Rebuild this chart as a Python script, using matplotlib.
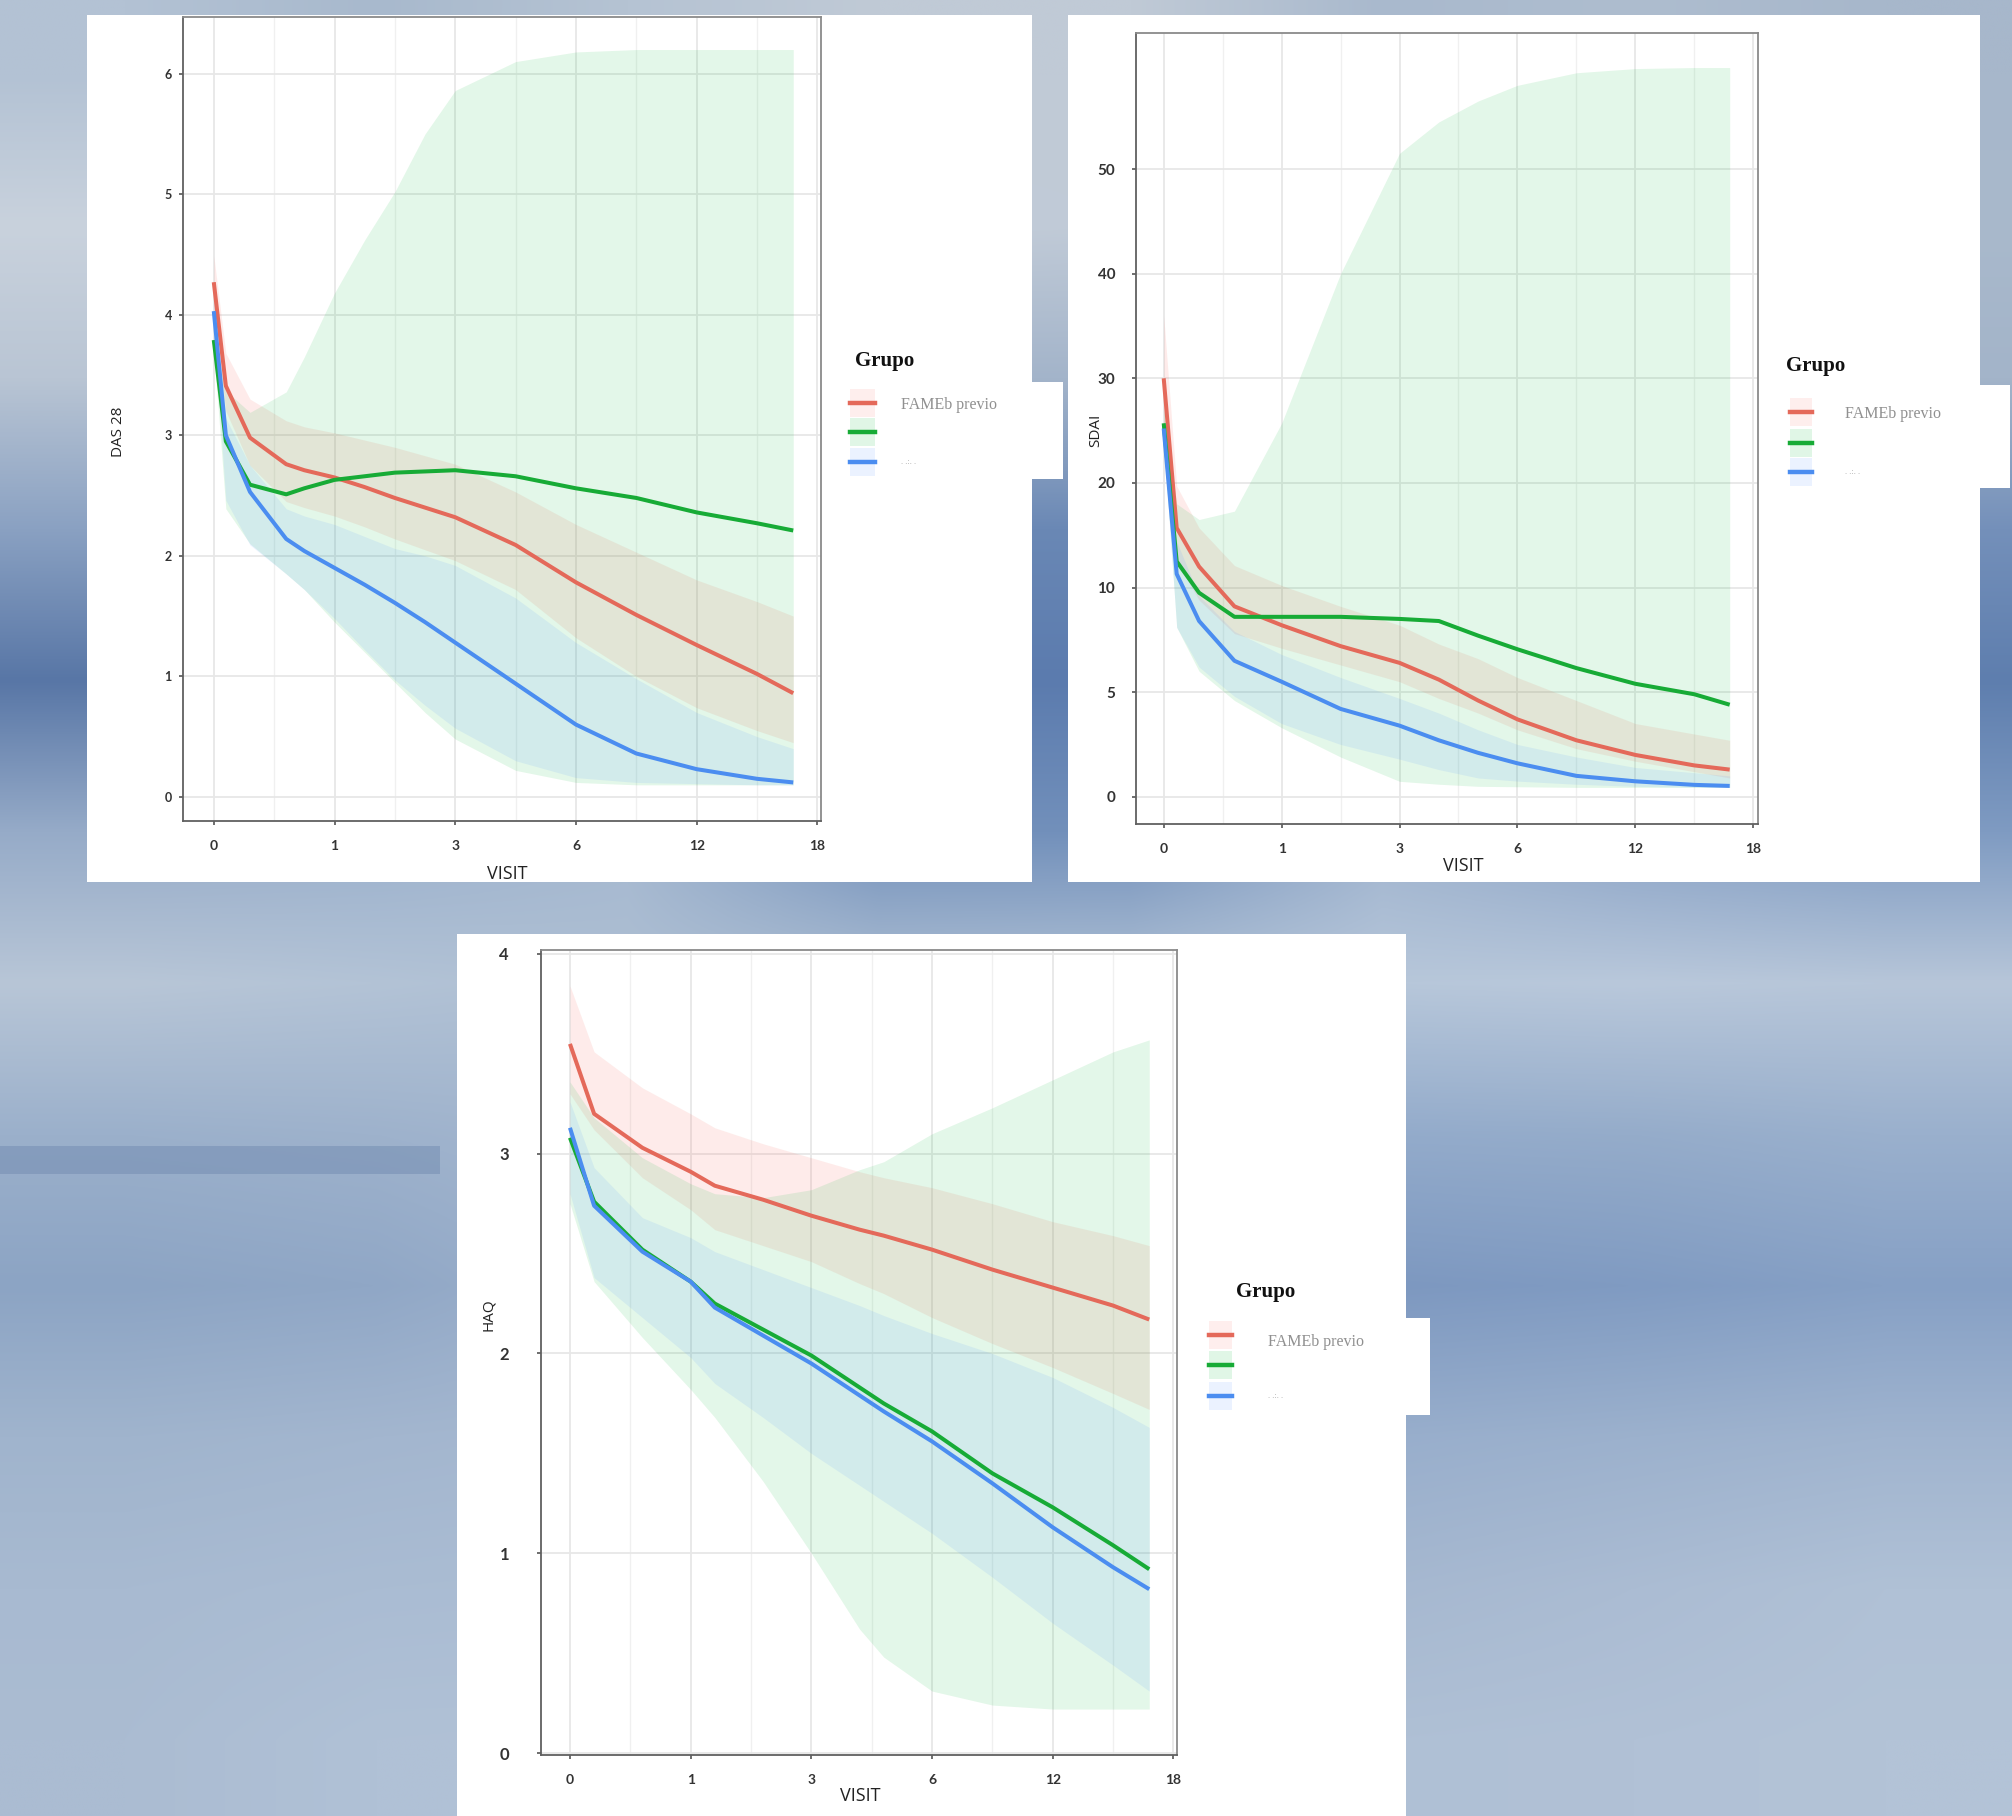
import numpy as np
import matplotlib
matplotlib.use("Agg")
import matplotlib.pyplot as plt
from matplotlib.patches import Rectangle
from matplotlib.lines import Line2D
from matplotlib.colors import to_rgb

# --- datos ---
visit_ticks = [0, 1, 3, 6, 12, 18]
visit_minor = [0.5, 2, 4.5, 9, 15]
grupos = ["FAMEb previo", "", ". .:. ."]

# DAS 28
das_x = [0, 0.1, 0.3, 0.6, 0.75, 1, 1.5, 2, 2.5, 3, 4.5, 6, 9, 12, 15, 16.8]
das_red = [4.27, 3.41, 2.98, 2.76, 2.71, 2.65, 2.57, 2.48, 2.40, 2.32, 2.09, 1.78, 1.51, 1.26, 1.02, 0.86]
das_red_hi = [4.49, 3.68, 3.30, 3.12, 3.07, 3.02, 2.96, 2.90, 2.83, 2.76, 2.53, 2.26, 2.03, 1.80, 1.62, 1.50]
das_red_lo = [4.05, 3.20, 2.75, 2.45, 2.40, 2.33, 2.24, 2.14, 2.05, 1.96, 1.72, 1.32, 1.00, 0.74, 0.55, 0.45]
das_green = [3.79, 2.95, 2.59, 2.51, 2.56, 2.63, 2.66, 2.69, 2.70, 2.71, 2.66, 2.56, 2.48, 2.36, 2.27, 2.21]
das_green_hi = [3.84, 3.37, 3.19, 3.36, 3.65, 4.18, 4.62, 5.02, 5.50, 5.86, 6.10, 6.18, 6.20, 6.20, 6.20, 6.20]
das_green_lo = [3.70, 2.39, 2.10, 1.85, 1.72, 1.45, 1.20, 0.95, 0.70, 0.48, 0.22, 0.12, 0.10, 0.10, 0.10, 0.10]
das_blue = [4.03, 3.00, 2.53, 2.14, 2.04, 1.90, 1.76, 1.61, 1.45, 1.28, 0.94, 0.60, 0.36, 0.23, 0.15, 0.12]
das_blue_hi = [4.15, 3.14, 2.75, 2.39, 2.33, 2.26, 2.16, 2.06, 2.00, 1.92, 1.65, 1.28, 0.98, 0.70, 0.50, 0.40]
das_blue_lo = [3.90, 2.46, 2.09, 1.85, 1.72, 1.48, 1.22, 0.97, 0.76, 0.57, 0.30, 0.16, 0.12, 0.11, 0.10, 0.10]
das_yticks = [0, 1, 2, 3, 4, 5, 6]

# SDAI
sdai_x = [0, 0.11, 0.3, 0.6, 1, 2, 3, 4, 5, 6, 9, 12, 15, 16.8]
sdai_red = [30, 15.7, 12, 9.1, 8.2, 7.2, 6.4, 5.6, 4.6, 3.7, 2.7, 2.0, 1.5, 1.3]
sdai_red_hi = [36, 19.7, 15.7, 12.1, 10.2, 9.1, 8.2, 7.3, 6.6, 5.7, 4.6, 3.5, 3.0, 2.7]
sdai_red_lo = [25, 12.5, 9.4, 7.8, 7.1, 6.3, 5.5, 4.7, 4.0, 3.2, 2.3, 1.7, 1.2, 0.9]
sdai_green = [25.7, 12.5, 9.75, 8.6, 8.6, 8.6, 8.5, 8.4, 7.7, 7.05, 6.15, 5.4, 4.9, 4.4]
sdai_green_hi = [27, 18, 16.5, 17.3, 25.7, 40, 51.5, 54.5, 56.5, 58, 59.2, 59.6, 59.7, 59.7]
sdai_green_lo = [24, 8.1, 6.0, 4.6, 3.3, 1.9, 0.74, 0.6, 0.5, 0.48, 0.45, 0.45, 0.45, 0.45]
sdai_blue = [25.2, 11.3, 8.4, 6.5, 5.5, 4.2, 3.4, 2.7, 2.1, 1.6, 1.0, 0.74, 0.57, 0.52]
sdai_blue_hi = [26, 14.4, 9.6, 7.9, 6.8, 5.7, 4.7, 4.0, 3.2, 2.5, 1.9, 1.4, 1.15, 1.0]
sdai_blue_lo = [24, 8.1, 6.2, 4.8, 3.5, 2.5, 1.8, 1.3, 0.9, 0.75, 0.6, 0.5, 0.46, 0.45]
sdai_yticks = [0, 5, 10, 20, 30, 40, 50]

# HAQ
haq_x = [0, 0.2, 0.6, 1, 1.4, 2.2, 3, 4.2, 4.8, 6, 9, 12, 15, 16.8]
haq_red = [3.55, 3.20, 3.03, 2.91, 2.84, 2.77, 2.69, 2.62, 2.59, 2.52, 2.42, 2.33, 2.24, 2.17]
haq_red_hi = [3.84, 3.51, 3.33, 3.20, 3.13, 3.05, 2.98, 2.91, 2.88, 2.83, 2.75, 2.66, 2.59, 2.54]
haq_red_lo = [3.30, 3.12, 2.88, 2.72, 2.62, 2.54, 2.46, 2.35, 2.30, 2.18, 2.05, 1.93, 1.80, 1.72]
haq_green = [3.08, 2.76, 2.52, 2.36, 2.25, 2.12, 1.99, 1.83, 1.75, 1.61, 1.40, 1.23, 1.04, 0.92]
haq_green_hi = [3.36, 3.18, 2.98, 2.85, 2.80, 2.78, 2.82, 2.92, 2.96, 3.10, 3.23, 3.37, 3.51, 3.57]
haq_green_lo = [2.75, 2.36, 2.08, 1.82, 1.68, 1.36, 1.00, 0.62, 0.48, 0.31, 0.24, 0.22, 0.22, 0.22]
haq_blue = [3.13, 2.74, 2.51, 2.36, 2.23, 2.09, 1.95, 1.79, 1.71, 1.56, 1.35, 1.13, 0.93, 0.82]
haq_blue_hi = [3.26, 2.93, 2.68, 2.58, 2.51, 2.42, 2.33, 2.24, 2.19, 2.10, 2.00, 1.88, 1.73, 1.63]
haq_blue_lo = [2.80, 2.38, 2.18, 1.98, 1.85, 1.68, 1.50, 1.34, 1.26, 1.10, 0.88, 0.65, 0.44, 0.31]
haq_yticks = [0, 1, 2, 3, 4]

# fondo difuminado (filas de arriba a abajo)
bg_colors = [
    ["#b3c2d4", "#a8b9cd", "#b5c3d3", "#c0cad6", "#c0cad6", "#a9b9cd", "#aebdcf", "#a7b7cb"],
    ["#c9d2dd", "#c0cbd9", "#c3cdd9", "#c2ccd8", "#c0cad7", "#b5c3d4", "#adbccf", "#a9b9cc"],
    ["#b9c5d4", "#b3c0d1", "#b0bed0", "#a3b4ca", "#a3b4ca", "#a8b8cc", "#a6b6cb", "#a3b4c9"],
    ["#8aa1c2", "#8aa0c2", "#8fa5c4", "#6a88b5", "#6a88b5", "#7c96bc", "#7a95bc", "#7490ba"],
    ["#5876a6", "#6783ae", "#6f8ab2", "#5b7bae", "#5b7bae", "#6b88b2", "#6584b0", "#5e7eae"],
    ["#96abc8", "#9ab0cc", "#a5b8d0", "#7290bb", "#7290bb", "#9fb3ce", "#8aa3c6", "#7f9bc2"],
    ["#b8c6d7", "#b3c3d6", "#aebfd3", "#aebfd3", "#b0c1d5", "#b7c7da", "#b9c8db", "#b7c6d9"],
    ["#9bb0cb", "#9eb2cc", "#a3b6cf", "#a6b8d0", "#9cb1cd", "#93abcb", "#95acca", "#9ab0cd"],
    ["#8ca4c4", "#90a7c6", "#9db1cc", "#9fb3cd", "#7f9ac1", "#7d98c0", "#809bc2", "#86a0c5"],
    ["#a0b4cd", "#a3b6cf", "#a6b8d0", "#a2b5ce", "#9bb0cc", "#98aecc", "#9cb1cd", "#a0b4cf"],
    ["#a8bad1", "#aabcd3", "#abbdd3", "#aabbd2", "#a9bbd2", "#a6b8d0", "#abbcd3", "#b0c1d6"],
    ["#abbcd2", "#b0c1d6", "#b1c1d6", "#b0c0d5", "#afc0d5", "#afc0d5", "#b1c1d6", "#b3c3d7"],
]

W, H = 2012, 1816
RED, GREEN, BLUE = "#e4695a", "#17ab36", "#4b8df0"
FRED, FGREEN, FBLUE = "#f8766d", "#00ba38", "#619cff"


def piecewise(knots):
    k = np.asarray(knots, float)
    p = np.arange(len(k), dtype=float)

    def fwd(v):
        v = np.asarray(v, float)
        out = np.interp(v, k, p)
        out = np.where(v < k[0], (v - k[0]) / (k[1] - k[0]), out)
        out = np.where(v > k[-1], p[-1] + (v - k[-1]) / (k[-1] - k[-2]), out)
        return out

    def inv(q):
        q = np.asarray(q, float)
        out = np.interp(q, p, k)
        out = np.where(q < 0, k[0] + q * (k[1] - k[0]), out)
        out = np.where(q > p[-1], k[-1] + (q - p[-1]) * (k[-1] - k[-2]), out)
        return out

    return fwd, inv


def box(x0, y0, x1, y1):
    # pixeles (origen arriba-izquierda) -> fraccion de figura
    return [x0 / W, 1 - y1 / H, (x1 - x0) / W, (y1 - y0) / H]


def rect(x0, y0, x1, y1, color="white", alpha=1.0):
    l, b, w, h = box(x0, y0, x1, y1)
    fig.add_artist(Rectangle((l, b), w, h, transform=fig.transFigure,
                             facecolor=color, alpha=alpha, edgecolor="none", zorder=-1))


def setup_axes(ax, xlim, ylim, yticks, ylabel, lab_pos, visit_pos, ytick_fs, ypad):
    ax.set_xscale("function", functions=piecewise(visit_ticks))
    ax.set_xticks(visit_ticks)
    ax.set_xticklabels([str(v) for v in visit_ticks])
    ax.set_xticks(visit_minor, minor=True)
    ax.set_yticks(yticks)
    ax.set_xlim(*xlim)
    ax.set_ylim(*ylim)
    ax.set_axisbelow(True)
    ax.grid(which="major", color="#e7e7e7", lw=1.3)
    ax.grid(which="minor", axis="x", color="#f0f0f0", lw=1.0)
    ax.tick_params(which="minor", length=0)
    ax.tick_params(axis="x", which="major", length=3, width=1.2, color="#555", pad=11,
                   labelsize=10, labelcolor="#333")
    ax.tick_params(axis="y", which="major", length=3, width=1.2, color="#555", pad=ypad,
                   labelsize=ytick_fs, labelcolor="#333")
    for t in ax.get_xticklabels() + ax.get_yticklabels():
        t.set_fontfamily("Lato")
        t.set_fontweight("bold")
    for s in ax.spines.values():
        s.set_color("#8a8a8a")
        s.set_linewidth(1.3)
    ax.spines["bottom"].set_color("#606060")
    ax.spines["left"].set_color("#606060")
    ax.set_xlabel("VISIT", fontsize=13, family="Open Sans", color="#222")
    ax.xaxis.set_label_coords(*visit_pos)
    ax.set_ylabel(ylabel, fontsize=11, family="Open Sans", color="#222")
    ax.yaxis.set_label_coords(*lab_pos)


def draw(ax, x, groups):
    for fc, a, line, lo, hi, lc in groups:
        ax.fill_between(x, lo, hi, color=fc, alpha=a, lw=0)
    for fc, a, line, lo, hi, lc in groups:
        ax.plot(x, line, color=lc, lw=2.9, solid_capstyle="butt")


def legend(tx, ty, kx0, kx1, ky, lx, ly):
    fig.text(tx / W, 1 - ty / H, "Grupo", ha="center", va="center", fontsize=15,
             family="Liberation Serif", weight="bold", color="#111")
    cols = [(RED, FRED), (GREEN, FGREEN), (BLUE, FBLUE)]
    for (lc, fc), y in zip(cols, ky):
        l, b, w, h = box(kx0, y - 14, kx1, y + 14)
        fig.add_artist(Rectangle((l, b), w, h, transform=fig.transFigure,
                                 facecolor=fc, alpha=0.12, edgecolor="none"))
        fig.add_artist(Line2D([kx0 / W, kx1 / W], [1 - y / H, 1 - y / H],
                              transform=fig.transFigure, color=lc, lw=3.2))
    fig.text(lx / W, 1 - ly / H, grupos[0], ha="left", va="center", fontsize=11.5,
             family="Liberation Serif", color="#909090")
    fig.text(lx / W, 1 - ky[2] / H, grupos[2], ha="left", va="center", fontsize=6,
             family="Liberation Serif", color="#b0b0b0")


fig = plt.figure(figsize=(W / 100, H / 100), dpi=100)

# fondo
bg = fig.add_axes([0, 0, 1, 1], zorder=-2)
img = np.array([[to_rgb(c) for c in row] for row in bg_colors])
bg.imshow(img, extent=[0, 1, 0, 1], aspect="auto", interpolation="bilinear")
bg.axis("off")
rect(0, 1146, 440, 1174, "#6d87ae", 0.45)

# paneles blancos
rect(87, 15, 1032, 882)
rect(1032, 382, 1063, 479)
rect(1068, 15, 1980, 882)
rect(1980, 385, 2010, 488)
rect(457, 934, 1406, 1816)
rect(1406, 1318, 1430, 1415)

# DAS 28
ax1 = fig.add_axes(box(183, 17, 821, 821))
draw(ax1, das_x, [
    (FRED, 0.14, das_red, das_red_lo, das_red_hi, RED),
    (FGREEN, 0.11, das_green, das_green_lo, das_green_hi, GREEN),
    (FBLUE, 0.13, das_blue, das_blue_lo, das_blue_hi, BLUE),
])
setup_axes(ax1, (-0.255, 18.18), (-0.2, 6.47), das_yticks, "DAS 28",
           (-0.09, 0.484), (0.508, -0.055), 9, 5)

# SDAI
ax2 = fig.add_axes(box(1136, 33, 1758, 824))
ax2.set_yscale("function", functions=piecewise(sdai_yticks))
draw(ax2, sdai_x, [
    (FRED, 0.14, sdai_red, sdai_red_lo, sdai_red_hi, RED),
    (FGREEN, 0.11, sdai_green, sdai_green_lo, sdai_green_hi, GREEN),
    (FBLUE, 0.13, sdai_blue, sdai_blue_lo, sdai_blue_hi, BLUE),
])
setup_axes(ax2, (-0.235, 18.24), (-1.3, 63), sdai_yticks, "SDAI",
           (-0.052, 0.498), (0.526, -0.042), 11, 12)

# HAQ
ax3 = fig.add_axes(box(541, 950, 1177, 1755))
draw(ax3, haq_x, [
    (FRED, 0.14, haq_red, haq_red_lo, haq_red_hi, RED),
    (FGREEN, 0.11, haq_green, haq_green_lo, haq_green_hi, GREEN),
    (FBLUE, 0.13, haq_blue, haq_blue_lo, haq_blue_hi, BLUE),
])
setup_axes(ax3, (-0.24, 18.18), (-0.01, 4.02), haq_yticks, "HAQ",
           (-0.07, 0.547), (0.502, -0.04), 12, 20)

# leyendas
legend(885, 361, 850, 875, [403, 432, 462], 901, 405)
legend(1816, 366, 1790, 1812, [412, 443, 472], 1845, 414)
legend(1266, 1292, 1209, 1232, [1335, 1365, 1396], 1268, 1342)

fig.savefig("out.png", dpi=100)
